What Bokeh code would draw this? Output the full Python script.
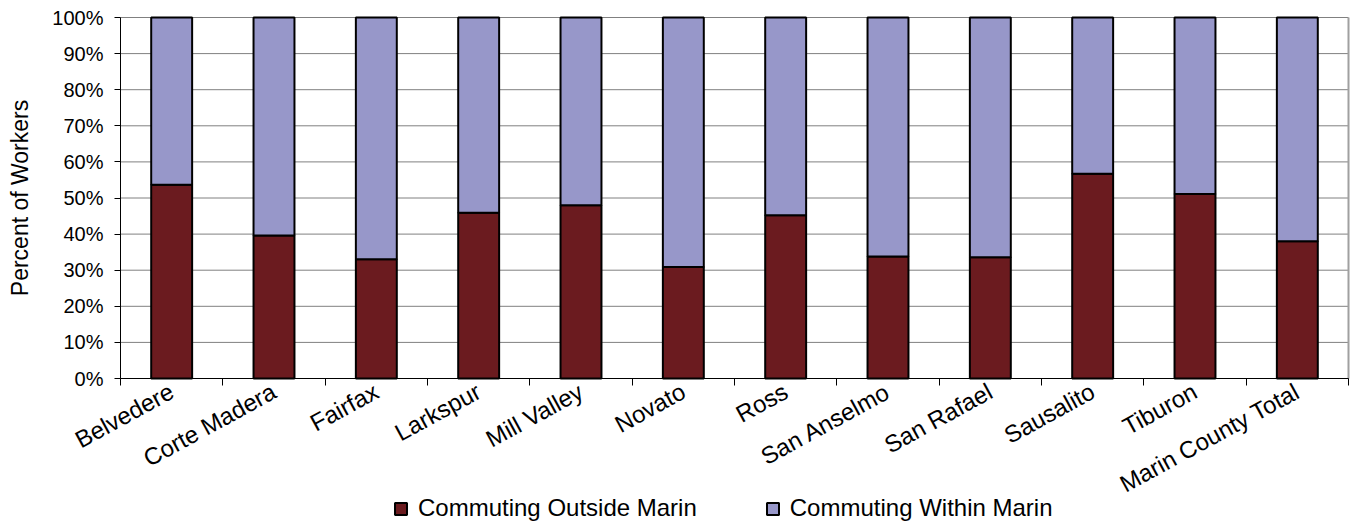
from bokeh.plotting import figure
from bokeh.models import (ColumnDataSource, FixedTicker, PrintfTickFormatter,
                          Legend, LegendItem, Range1d, LinearAxis)
from bokeh.embed import file_html
from bokeh.resources import INLINE

categories = ["Belvedere", "Corte Madera", "Fairfax", "Larkspur", "Mill Valley",
              "Novato", "Ross", "San Anselmo", "San Rafael", "Sausalito",
              "Tiburon", "Marin County Total"]
outside_marin = [53.7, 39.6, 33.0, 45.9, 48.0, 30.9, 45.2, 33.8, 33.6, 56.7, 51.1, 38.0]
within_marin = [round(100 - v, 1) for v in outside_marin]
series_names = ["Commuting Outside Marin", "Commuting Within Marin"]
colors = ["#6B1B1F", "#9797C9"]
y_ticks = list(range(0, 101, 10))

n = len(categories)
xpos = [i + 0.5 for i in range(n)]
source = ColumnDataSource(dict(x=xpos, cat=categories, outside=outside_marin,
                               within=within_marin))

# layout (pixels): plot area from x=120 to 1348, y=17 (100%) to 378 (0%)
W, H = 1353, 524
left, right, top, bottom = 120, 1348, 17, 378
px_per_cat = (right - left) / n
px_per_pct = (bottom - top) / 100.0
x_range = Range1d(-left / px_per_cat, n + (W - right) / px_per_cat)
y_range = Range1d(-(H - bottom) / px_per_pct, 100 + top / px_per_pct)

p = figure(width=W, height=H, output_backend="svg", toolbar_location=None,
           x_range=x_range, y_range=y_range, min_border=0,
           x_axis_location=None, y_axis_location=None)
p.outline_line_color = None
for g in p.grid:
    g.visible = False

# gridlines and right border of plot area
grid_src = ColumnDataSource(dict(y=y_ticks, x0=[0] * len(y_ticks), x1=[n] * len(y_ticks)))
p.segment(x0="x0", x1="x1", y0="y", y1="y", source=grid_src,
          line_color="#808080", line_width=1)
p.segment(x0=[n], x1=[n], y0=[0], y1=[100], line_color="#A0A0A0", line_width=2)

r1 = p.vbar(x="x", top="outside", bottom=0, width=0.4, source=source,
            fill_color=colors[0], line_color="black", line_width=2)
r2 = p.vbar(x="x", top=100, bottom="outside", width=0.4, source=source,
            fill_color=colors[1], line_color="black", line_width=2)

font = "Liberation Sans"

yaxis = LinearAxis(fixed_location=0, bounds=(0, 100),
                   ticker=FixedTicker(ticks=y_ticks),
                   formatter=PrintfTickFormatter(format="%d%%"))
yaxis.axis_label = "Percent of Workers"
yaxis.axis_label_text_font = font
yaxis.axis_label_text_font_size = "23px"
yaxis.axis_label_text_font_style = "normal"
yaxis.axis_label_text_color = "black"
yaxis.axis_label_standoff = 16
yaxis.major_label_text_font = font
yaxis.major_label_text_font_size = "20px"
yaxis.major_label_text_color = "black"
yaxis.major_label_standoff = 11
yaxis.major_tick_out = 6
yaxis.major_tick_in = 0
yaxis.minor_tick_line_color = None
yaxis.axis_line_color = "black"
yaxis.major_tick_line_color = "black"
p.add_layout(yaxis, "left")

xaxis = LinearAxis(fixed_location=0, bounds=(0, n),
                   ticker=FixedTicker(ticks=xpos, minor_ticks=list(range(0, n + 1))))
xaxis.major_label_overrides = {x: c for x, c in zip(xpos, categories)}
xaxis.major_label_orientation = 0.5
xaxis.major_label_text_font = font
xaxis.major_label_text_font_size = "24px"
xaxis.major_label_text_color = "black"
xaxis.major_label_standoff = 4
xaxis.major_tick_line_color = None
xaxis.minor_tick_out = 7
xaxis.minor_tick_in = 0
xaxis.minor_tick_line_color = "black"
xaxis.axis_line_color = "black"
p.add_layout(xaxis, "below")

legend = Legend(items=[LegendItem(label=series_names[0], renderers=[r1]),
                       LegendItem(label=series_names[1], renderers=[r2])],
                orientation="horizontal", location=(393, 2),
                label_text_font=font, label_text_font_size="24px",
                label_text_color="black", label_standoff=10,
                glyph_width=15, glyph_height=15, spacing=68,
                border_line_color=None, background_fill_alpha=0,
                padding=0, margin=0)
p.add_layout(legend, "center")

open("out.html", "w").write(file_html(p, INLINE))
